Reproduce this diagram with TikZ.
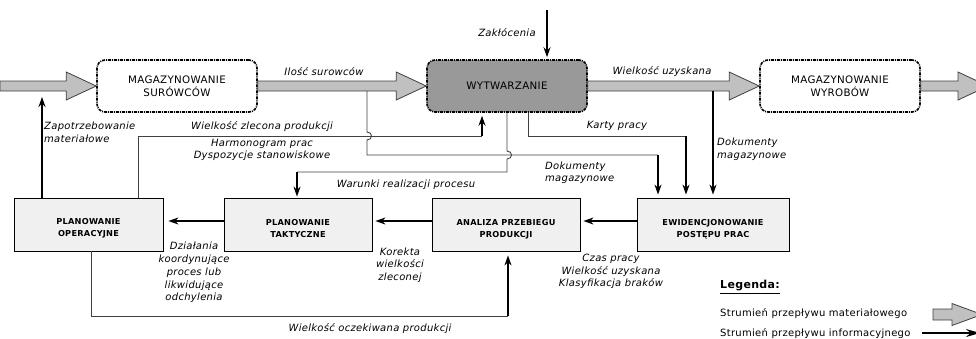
\documentclass[tikz,border=0pt]{standalone}
\usepackage{fontspec}
\setmainfont{DejaVu Sans}[LetterSpace=3]
\usetikzlibrary{arrows.meta,calc}
\definecolor{boxgray}{HTML}{F0F0F0}
\definecolor{wytgray}{HTML}{999999}
\definecolor{matfill}{HTML}{C0C0C0}
\definecolor{matedge}{HTML}{404040}
\definecolor{linegray}{HTML}{404040}
\newcommand\matarr[5]{%
  \path[mat] let \p1=#1, \p2=#2 in
    (\x1,\y1+#3) -- (\x2-#5,\y1+#3) -- (\x2-#5,\y1+#4) -- (\x2,\y1)
    -- (\x2-#5,\y1-#4) -- (\x2-#5,\y1-#3) -- (\x1,\y1-#3) -- cycle;}
\tikzset{
  ubox/.style={draw, line width=1.6pt, dash pattern=on 3pt off 1pt on 1pt off 1pt,
    rounded corners=8pt, minimum width=160pt, minimum height=52pt, inner sep=0pt,
    align=center, font=\fontsize{10.3}{12.5}\selectfont},
  lbox/.style={draw, line width=0.8pt, fill=boxgray, minimum width=148pt,
    minimum height=53pt, inner sep=0pt},
  btext/.style={font=\bfseries\fontsize{8.2}{11.5}\selectfont, align=center, inner sep=0pt},
  lab/.style={font=\itshape\fontsize{10}{12.75}\selectfont, align=center, inner sep=0pt},
  labl/.style={lab, align=left, anchor=west},
  lgtext/.style={font=\fontsize{10}{12}\selectfont, anchor=west, inner sep=0pt},
  gline/.style={draw=linegray, line width=0.9pt},
  info/.style={draw=black, line width=1.5pt, -{Stealth[length=10pt,width=7pt]}},
  mat/.style={draw=matedge, fill=matfill, line width=0.8pt}
}
\begin{document}
\begin{tikzpicture}[x=1pt,y=-1pt]
\useasboundingbox (0,0) rectangle (976,338);

% upper boxes
\node[ubox,fill=white] (ms) at (177,86) {MAGAZYNOWANIE\\SURÓWCÓW};
\node[ubox,fill=wytgray] (wyt) at (507,86) {WYTWARZANIE};
\node[ubox,fill=white] (mw) at (840,86) {MAGAZYNOWANIE\\WYROBÓW};
\coordinate (in0) at (0,86);
\coordinate (out0) at (988,86);

% material flows
\matarr{(in0)}{(ms.west)}{5pt}{14pt}{30pt}
\matarr{(ms.east)}{(wyt.west)}{5pt}{14pt}{30pt}
\matarr{(wyt.east)}{(mw.west)}{5pt}{14pt}{30pt}
\matarr{(mw.east)}{(out0)}{5pt}{14pt}{30pt}

% lower boxes
\node[lbox, minimum width=149pt] (po) at (88.5,224.5) {};
\node[lbox] (pt) at (298,224.5) {};
\node[lbox] (an) at (506,224.5) {};
\node[lbox, minimum width=152pt] (ew) at (713,224.5) {};
\node[btext] (pot) at ([yshift=-4pt]po.center) {PLANOWANIE\\OPERACYJNE};
\node[btext] (ptt) at ([yshift=-4pt]pt.center) {PLANOWANIE\\TAKTYCZNE};
\node[btext] (ant) at ([yshift=-5pt]an.center) {ANALIZA PRZEBIEGU\\PRODUKCJI};
\node[btext] (ewt) at ([yshift=-5pt]ew.center) {EWIDENCJONOWANIE\\POSTĘPU PRAC};

% horizontal info arrows between lower boxes
\draw[info, shorten >=3pt] ([yshift=3.5pt]ew.west) -- ([yshift=3.5pt]an.east);
\draw[info, shorten >=3pt] ([yshift=3.5pt]an.west) -- ([yshift=3.5pt]pt.east);
\draw[info, shorten >=5pt] ([yshift=3.5pt]pt.west) -- ([yshift=3.5pt]po.east);

% Zaklocenia
\coordinate (zk) at (547,10);
\draw[info, shorten >=2pt] (zk) -- (wyt.north -| zk);

% Zapotrzebowanie materialowe
\coordinate (zap) at (42,97);
\draw[info] (po.north -| zap) -- (zap);

% Wielkosc zlecona produkcji
\coordinate (wz1) at (138,136);
\coordinate (wz2) at (482,136);
\draw[gline] (po.north -| wz1) -- (wz1) -- (wz2);
\draw[info, shorten >=3pt] (wz2) -- (wyt.south -| wz2);

% Ilosc surowcow -> Dokumenty magazynowe
\coordinate (il0) at (367,91);
\coordinate (il1) at (367,132);
\coordinate (il2) at (367,140);
\coordinate (il3) at (367,155);
\coordinate (il4) at (658,155);
\draw[gline] (il0) -- (il1) .. controls ($(il1)+(6,0)$) and ($(il2)+(6,0)$) .. (il2) -- (il3) -- (il4);
\draw[info, shorten >=3pt] (il4) -- (ew.north -| il4);

% Warunki realizacji procesu
\coordinate (wr1) at (507,151);
\coordinate (wr2) at (507,159);
\coordinate (wr3) at (507,172);
\coordinate (wr4) at (297,172);
\draw[gline] (wyt.south) -- (wr1) .. controls ($(wr1)+(6,0)$) and ($(wr2)+(6,0)$) .. (wr2) -- (wr3) -- (wr4);
\draw[info, shorten >=1pt] (wr4) -- (pt.north -| wr4);

% Karty pracy
\coordinate (kp1) at (528,136);
\coordinate (kp2) at (686,136);
\draw[gline] (wyt.south -| kp1) -- (kp1) -- (kp2);
\draw[info, shorten >=3pt] (kp2) -- (ew.north -| kp2);

% Dokumenty magazynowe (right)
\coordinate (dm0) at (713,91);
\draw[info, shorten >=3pt] (dm0) -- (ew.north -| dm0);

% Wielkosc oczekiwana produkcji
\coordinate (wo1) at (91,316);
\coordinate (wo2) at (508,316);
\draw[gline] (po.south -| wo1) -- (wo1) -- (wo2);
\draw[info, shorten >=4pt] (wo2) -- (an.south -| wo2);

% labels
\node[lab] (l1) at (324,72) {Ilość surowców};
\node[lab] (l2) at (507,33) {Zakłócenia};
\node[lab] (l3) at (662,72) {Wielkość uzyskana};
\node[labl] (l4) at (44,132.5) {Zapotrzebowanie\\materiałowe};
\node[lab] (l5) at (262,127) {Wielkość zlecona produkcji};
\node[lab] (l6) at (262,150) {Harmonogram prac\\Dyspozycje stanowiskowe};
\node[lab] (l7) at (617,126) {Karty pracy};
\node[labl, font=\itshape\fontsize{10}{12}\selectfont] (l8) at (545,172.5) {Dokumenty\\magazynowe};
\node[labl] (l9) at (717,149.5) {Dokumenty\\magazynowe};
\node[lab] (l10) at (406,185) {Warunki realizacji procesu};
\node[lab] (l11) at (194,272.5) {Działania\\koordynujące\\proces lub\\likwidujące\\odchylenia};
\node[lab] (l12) at (400,265) {Korekta\\wielkości\\zleconej};
\node[lab] (l13) at (611,271.5) {Czas pracy\\Wielkość uzyskana\\Klasyfikacja braków};
\node[lab] (l14) at (370,329) {Wielkość oczekiwana produkcji};

% legend
\node[font=\bfseries\fontsize{11}{13}\selectfont, anchor=west, inner sep=0pt] (lg) at (720,287) {\underline{Legenda:}};
\node[lgtext] (lg1) at (720,314) {Strumień przepływu materiałowego};
\node[lgtext] (lg2) at (720,334) {Strumień przepływu informacyjnego};
\coordinate (lm0) at (933,314.5);
\coordinate (lm1) at (982,314.5);
\matarr{(lm0)}{(lm1)}{5.5pt}{11pt}{30pt}
\coordinate (li0) at (922,333);
\coordinate (li1) at (980,333);
\draw[info, -{Stealth[length=14pt,width=8pt]}] (li0) -- (li1);
\end{tikzpicture}
\end{document}
